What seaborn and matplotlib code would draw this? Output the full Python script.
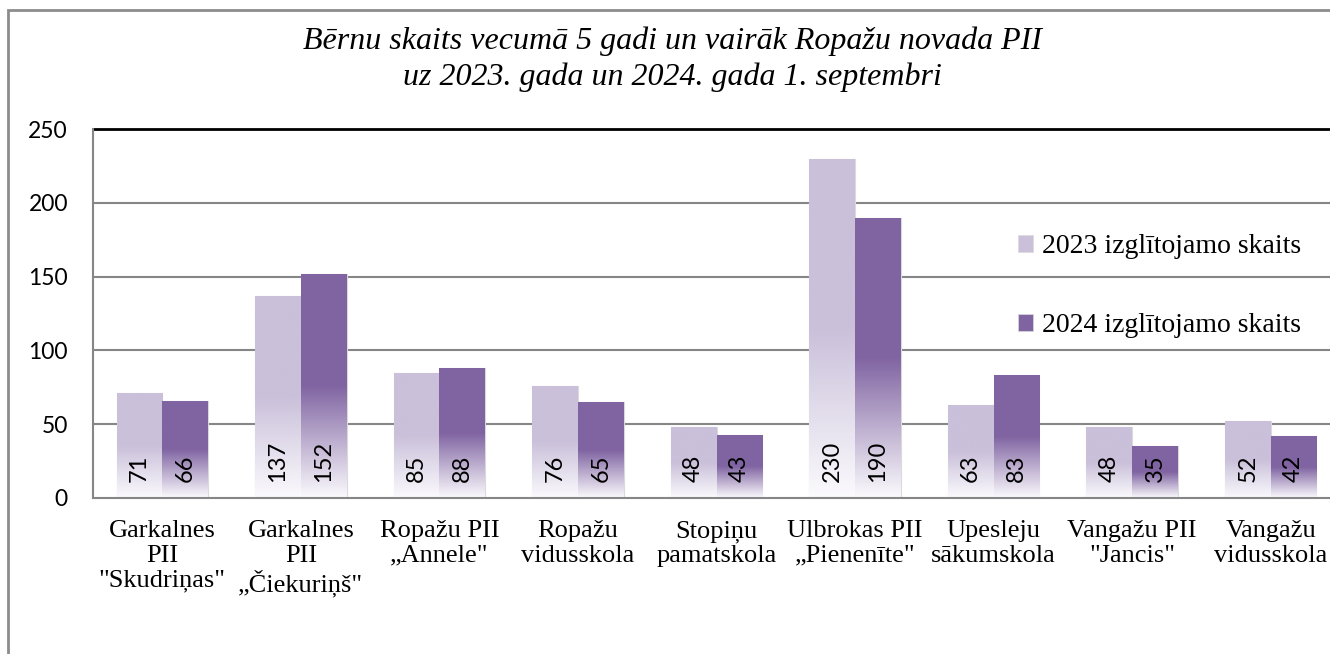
import numpy as np
import pandas as pd
import matplotlib
matplotlib.use("Agg")
import matplotlib.pyplot as plt
import matplotlib.colors as mcolors
from matplotlib.patches import Rectangle, Patch
import seaborn as sns

categories = [
    "Garkalnes\nPII\n\"Skudriņas\"",
    "Garkalnes\nPII\n„Čiekuriņš\"",
    "Ropažu PII\n„Annele\"",
    "Ropažu\nvidusskola",
    "Stopiņu\npamatskola",
    "Ulbrokas PII\n„Pienenīte\"",
    "Upesleju\nsākumskola",
    "Vangažu PII\n\"Jancis\"",
    "Vangažu\nvidusskola",
]
series_names = ["2023 izglītojamo skaits", "2024 izglītojamo skaits"]
values_2023 = [71, 137, 85, 76, 48, 230, 63, 48, 52]
values_2024 = [66, 152, 88, 65, 43, 190, 83, 35, 42]
y_ticks = [0, 50, 100, 150, 200, 250]
title_text = "Bērnu skaits vecumā 5 gadi un vairāk Ropažu novada PII\nuz 2023. gada un 2024. gada 1. septembri"

colors = {series_names[0]: "#CAC0DA", series_names[1]: "#8064A2"}

df = pd.DataFrame({
    "category": categories * 2,
    "series": [series_names[0]] * len(categories) + [series_names[1]] * len(categories),
    "value": values_2023 + values_2024,
})

sns.set_theme(style="white")
plt.rcParams["font.family"] = ["Liberation Serif", "DejaVu Serif"]
plt.rcParams["text.color"] = "black"
plt.rcParams["xtick.color"] = "black"
plt.rcParams["ytick.color"] = "black"
plt.rcParams["xtick.labelcolor"] = "black"
plt.rcParams["ytick.labelcolor"] = "black"

W, H = 1330, 654
fig = plt.figure(figsize=(W / 100, H / 100), dpi=100)
fig.patch.set_facecolor("white")

left_px, right_px, top_px, bottom_px = 93, 1340, 129, 498
ax = fig.add_axes([left_px / W, 1 - bottom_px / H, (right_px - left_px) / W, (bottom_px - top_px) / H])

sns.barplot(data=df, x="category", y="value", hue="series", hue_order=series_names,
            order=categories, palette=colors, width=0.66, ax=ax, legend=True,
            edgecolor="#DADADA", linewidth=0.8, saturation=1)

if ax.get_legend() is not None:
    ax.get_legend().remove()

ax.set_ylim(0, 250)
ax.set_xlim(-0.5, len(categories) - 0.5)


def gradient(color, n=256):
    rgb = np.array(mcolors.to_rgb(color))
    white = np.array(mcolors.to_rgb("#FBFAFD"))
    t = np.linspace(0, 1, n)
    f = np.clip(t / 0.5, 0, 1)
    img = white[None, :] * (1 - f[:, None]) + rgb[None, :] * f[:, None]
    return img[:, None, :]


for cont, name, vals in zip(ax.containers, series_names, [values_2023, values_2024]):
    img = gradient(colors[name])
    for patch, v in zip(cont.patches, vals):
        x0 = patch.get_x()
        w = patch.get_width()
        h = patch.get_height()
        im = ax.imshow(img, extent=[x0, x0 + w, 0, h], origin="lower", aspect="auto",
                       zorder=patch.get_zorder() + 0.1, interpolation="bilinear")
        im.set_clip_path(patch)
        ax.annotate(f"{v}", xy=(x0 + w / 2, 0), xytext=(0, 11.5), textcoords="offset points",
                    rotation=90, ha="center", va="bottom", fontsize=17, family="Lato",
                    color="black", zorder=5)

ax.set_ylim(0, 250)
ax.set_xlim(-0.5, len(categories) - 0.5)

# gridlines
for yv in y_ticks[1:-1]:
    ax.axhline(yv, color="#868686", lw=1.5, zorder=0)
ax.axhline(250, color="black", lw=2, zorder=0, clip_on=False)

for s in ["top", "right"]:
    ax.spines[s].set_visible(False)
ax.spines["left"].set_color("#868686")
ax.spines["left"].set_linewidth(1.5)
ax.spines["bottom"].set_color("#868686")
ax.spines["bottom"].set_linewidth(1.5)

ax.set_yticks(y_ticks)
ax.set_yticklabels([str(t) for t in y_ticks], family="Lato", fontsize=16.5, color="black")
ax.tick_params(axis="y", length=0, pad=18)
ax.tick_params(axis="x", length=0, pad=16)
ax.set_xticks(range(len(categories)))
ax.set_xticklabels(categories, fontsize=19, linespacing=1.14, color="black")
ax.set_xlabel("")
ax.set_ylabel("")

# legend
leg_handles = [Patch(facecolor=colors[n], edgecolor="#DADADA", linewidth=0.5) for n in series_names]
fig.legend(leg_handles, series_names, loc="upper left", bbox_to_anchor=(1018 / W, 1 - 234 / H),
           frameon=False, fontsize=20, handlelength=0.55, handleheight=0.55,
           handletextpad=0.3, labelspacing=1.95, borderpad=0, borderaxespad=0)

# title
fig.text(672 / W, 1 - 59 / H, title_text, ha="center", va="center", fontsize=23,
         style="italic", linespacing=1.3, color="black")

# outer frame
fig.add_artist(Rectangle((8 / W, -0.1), 1.2, 1 - 10 / H + 0.1, transform=fig.transFigure,
                         fill=False, edgecolor="#8C8C8C", lw=2))

fig.savefig("out.png", dpi=100, facecolor="white")
